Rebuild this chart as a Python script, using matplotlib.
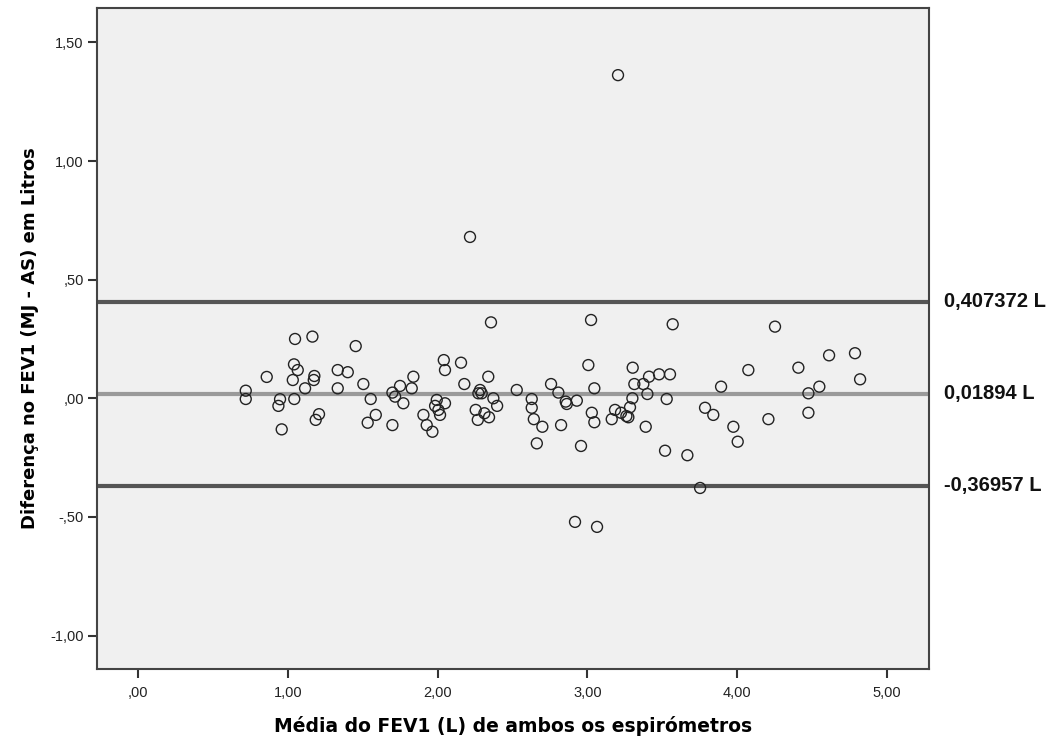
import numpy as np
import matplotlib
matplotlib.use('Agg')
from matplotlib import pyplot as plt
from matplotlib import transforms as mtransforms
from matplotlib.ticker import FuncFormatter

# --- data
media = [0.719, 0.719, 0.859, 1.048, 1.164, 1.041, 1.066, 1.033, 0.948, 0.937,
         1.043, 0.959, 1.115, 1.177, 1.173, 1.208, 1.186, 1.333, 1.400, 1.333,
         1.453, 1.504, 1.553, 1.587, 1.533,
         1.698, 1.716, 1.749, 1.771, 1.838, 1.827, 1.698, 2.356, 2.041, 2.049,
         2.156, 2.178, 1.994, 1.983, 2.049, 2.005, 2.016, 1.905, 1.927, 1.965,
         2.338, 2.283, 2.294, 2.272, 2.372, 2.397, 2.254, 2.312, 2.343, 2.268,
         2.528, 2.628, 2.628, 2.642, 2.699, 2.662,
         2.757, 2.806, 2.855, 2.862, 2.929, 2.824, 2.957, 3.024, 3.006, 3.046,
         3.029, 3.046, 3.162, 3.184, 3.224, 3.273, 3.284, 3.300, 3.302, 3.313,
         3.373, 3.411, 3.478, 3.551, 3.400, 3.389, 3.529, 3.569, 3.518, 3.667,
         3.785, 3.260,
         3.840, 3.892, 3.974, 4.003, 4.074, 4.252, 4.208, 4.408, 4.475, 4.475,
         4.548, 4.613, 4.786, 4.820,
         3.204, 2.216, 2.917, 3.064, 3.752]
diferenca = [0.032, -0.003, 0.090, 0.250, 0.260, 0.143, 0.119, 0.077, -0.004, -0.032,
             -0.003, -0.131, 0.042, 0.094, 0.077, -0.067, -0.091, 0.119, 0.110, 0.042,
             0.220, 0.060, -0.003, -0.070, -0.103,
             0.024, 0.007, 0.052, -0.021, 0.091, 0.042, -0.113, 0.320, 0.161, 0.119,
             0.150, 0.060, -0.007, -0.032, -0.021, -0.049, -0.070, -0.070, -0.113, -0.141,
             0.091, 0.035, 0.021, 0.021, 0.000, -0.032, -0.049, -0.063, -0.080, -0.091,
             0.035, -0.003, -0.040, -0.088, -0.120, -0.190,
             0.060, 0.024, -0.014, -0.024, -0.010, -0.113, -0.201, 0.330, 0.140, 0.042,
             -0.061, -0.101, -0.088, -0.049, -0.061, -0.080, -0.038, 0.000, 0.129, 0.060,
             0.060, 0.091, 0.101, 0.101, 0.018, -0.120, -0.003, 0.312, -0.221, -0.240,
             -0.040, -0.075,
             -0.070, 0.049, -0.120, -0.183, 0.119, 0.302, -0.088, 0.129, 0.021, -0.061,
             0.049, 0.181, 0.190, 0.080,
             1.362, 0.680, -0.521, -0.542, -0.378]

media_dif = 0.01894
lim_sup = 0.407372
lim_inf = -0.36957
linhas_txt = ['0,407372 L', '0,01894 L', '-0,36957 L']

plt.rcParams['font.family'] = ['Liberation Sans', 'DejaVu Sans']

fig = plt.figure(figsize=(10.56, 7.39), dpi=100)
ax = fig.add_axes([97 / 1056, 70 / 739, 832 / 1056, 661 / 739])
ax.set_facecolor('#f0f0f0')

# limit lines and mean
ax.axhline(lim_sup, color='#555555', lw=3.0, zorder=2)
ax.axhline(lim_inf, color='#555555', lw=3.0, zorder=2)
ax.axhline(media_dif, color='#9a9a9a', lw=3.0, zorder=2)

ax.scatter(media, diferenca, s=62, facecolors='none', edgecolors='#222222',
           linewidths=1.0, zorder=3)

ax.set_xlim(-0.274, 5.28)
ax.set_ylim(-1.141, 1.645)
ax.set_xticks([0, 1, 2, 3, 4, 5])
ax.set_yticks([-1.0, -0.5, 0.0, 0.5, 1.0, 1.5])


def fmt(v, pos):
    s = f'{v:.2f}'.replace('.', ',')
    s = s.replace('-0,', '-,')
    if s.startswith('0,'):
        s = s[1:]
    return s


ax.xaxis.set_major_formatter(FuncFormatter(fmt))
ax.yaxis.set_major_formatter(FuncFormatter(fmt))
ax.tick_params(axis='both', direction='out', length=6.5, width=1.5,
               color='#333333', labelsize=10.5, labelcolor='#222222', pad=3)
ax.tick_params(axis='x', pad=6)
for sp in ax.spines.values():
    sp.set_color('#444444')
    sp.set_linewidth(1.5)

ax.set_xlabel('Média do FEV1 (L) de ambos os espirómetros', fontsize=13.5,
              fontweight='bold', family='DejaVu Sans', labelpad=11)
ax.set_ylabel('Diferença no FEV1 (MJ - AS) em Litros', fontsize=13,
              fontweight='bold', family='DejaVu Sans', labelpad=8)

# labels for the lines at the right of the frame
trans = mtransforms.blended_transform_factory(ax.transAxes, ax.transData)
for val, txt in zip([lim_sup, media_dif, lim_inf], linhas_txt):
    ax.text(1.018, val, txt, transform=trans, fontsize=14.5, fontweight='bold',
            va='center', ha='left', color='#111111')

fig.savefig('out.png', dpi=100)
